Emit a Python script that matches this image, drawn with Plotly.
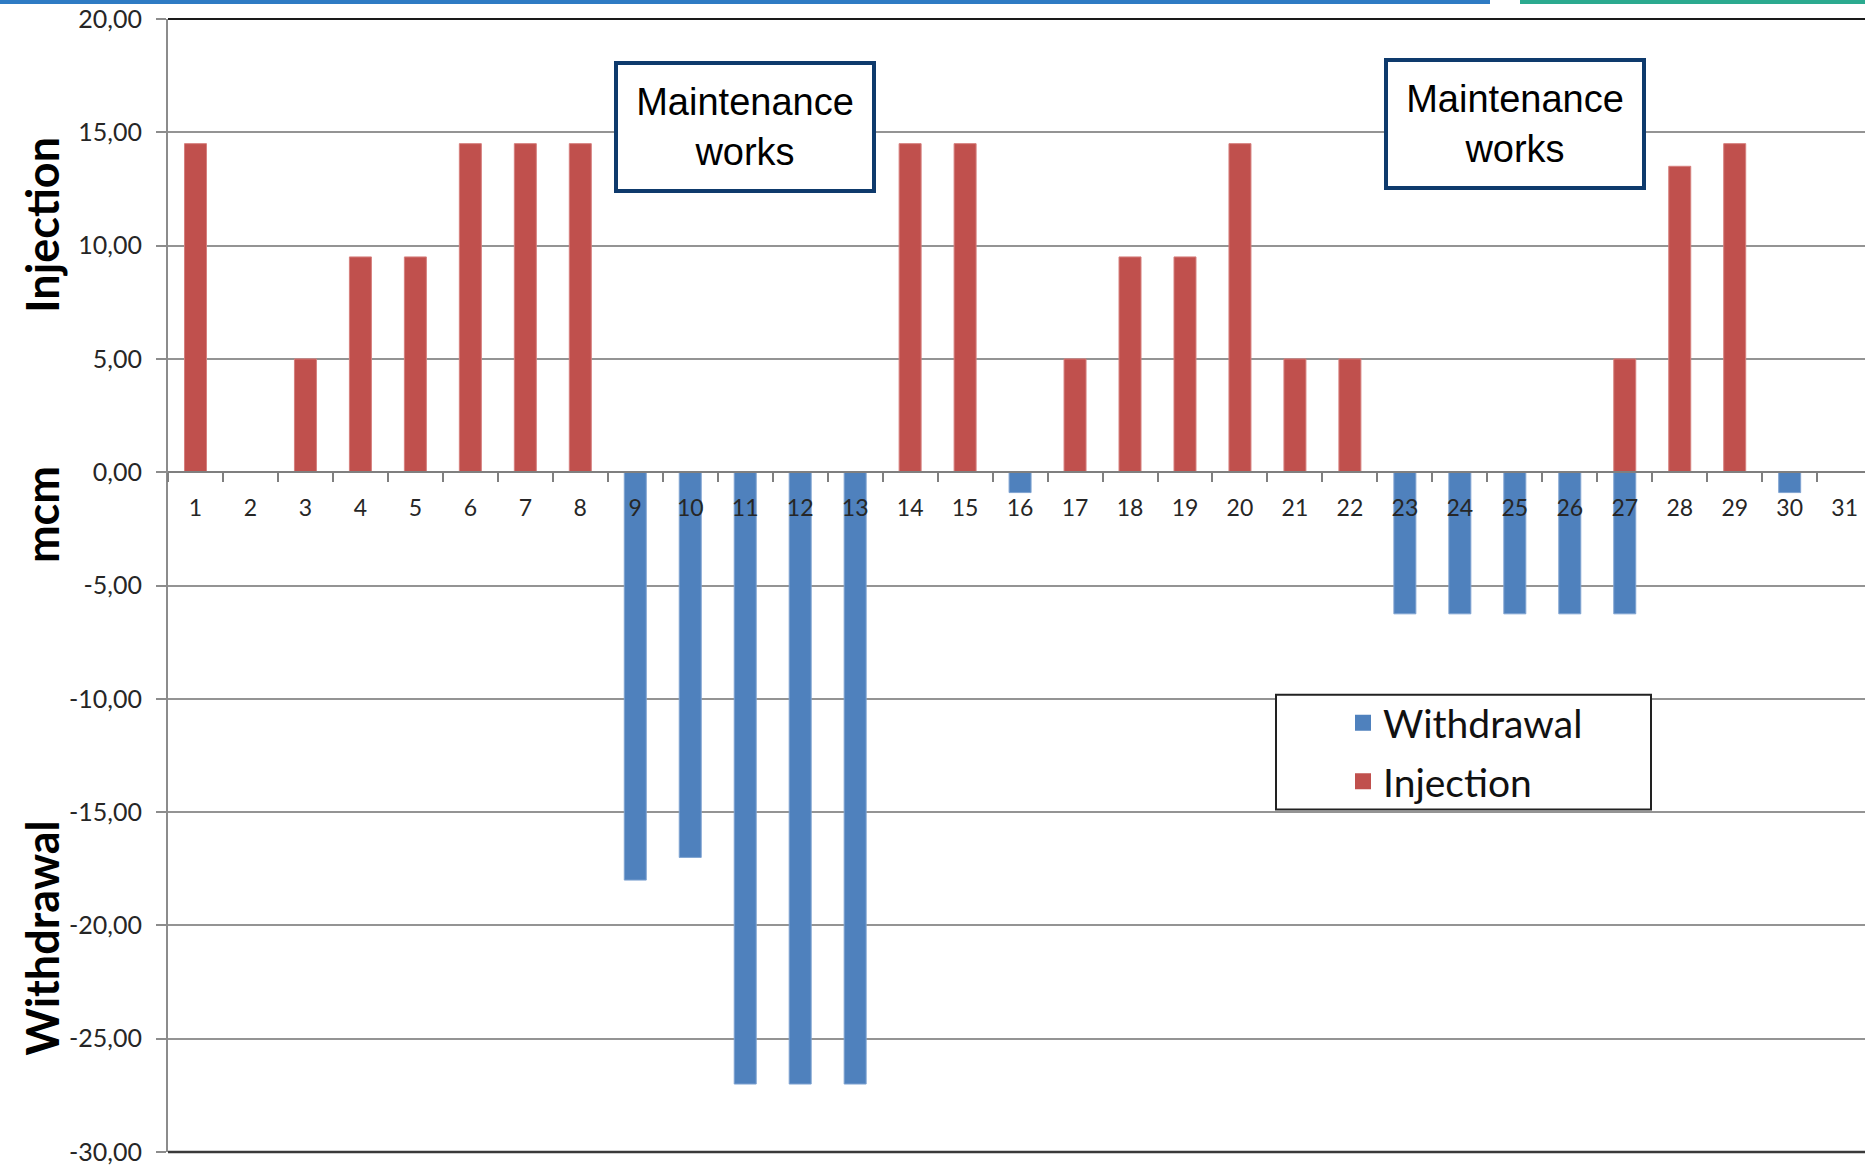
import plotly.graph_objects as go

# ---------------- data ----------------
days = ["1", "2", "3", "4", "5", "6", "7", "8", "9", "10", "11", "12", "13", "14", "15", "16",
        "17", "18", "19", "20", "21", "22", "23", "24", "25", "26", "27", "28", "29", "30", "31"]

withdrawal = [None, None, None, None, None, None, None, None, -18, -17, -27, -27, -27, None, None, -0.9,
              None, None, None, None, None, None, -6.25, -6.25, -6.25, -6.25, -6.25, None, None, -0.9, None]

injection = [14.5, None, 5, 9.5, 9.5, 14.5, 14.5, 14.5, None, None, None, None, None, 14.5, 14.5, None,
             5, 9.5, 9.5, 14.5, 5, 5, None, None, None, None, 5, 13.5, 14.5, None, None]

y_tickvals = [20, 15, 10, 5, 0, -5, -10, -15, -20, -25, -30]
y_ticktext = ["20,00", "15,00", "10,00", "5,00", "0,00", "-5,00", "-10,00", "-15,00", "-20,00", "-25,00", "-30,00"]

maint_days = ["11", "25"]
maint_text = "Maintenance<br>works"

# ---------------- layout geometry ----------------
W, H = 1865, 1166
L, R, T, B = 168, 0, 19, 12
PW, PH = W - L - R, H - T - B
y_min, y_max = -30, 20
zero_pos = (0 - y_min) / (y_max - y_min)


def px_x(x):
    return (x - L) / PW


def px_y(y):
    return (H - B - y) / PH


BLUE = "#4F81BD"
RED = "#C0504D"
TXT = "#262626"

fig = go.Figure()
fig.add_trace(go.Bar(x=days, y=withdrawal, name="Withdrawal", marker_color=BLUE,
                     marker_line=dict(color="#7FA3D1", width=1), width=0.4,
                     showlegend=False))
fig.add_trace(go.Bar(x=days, y=injection, name="Injection", marker_color=RED,
                     marker_line=dict(color="#D67F7D", width=1), width=0.4,
                     showlegend=False))
# legend entries (square swatches, no drawn points)
fig.add_trace(go.Scatter(x=[None], y=[None], mode="markers", name="Withdrawal",
                         marker=dict(symbol="square", size=16, color=BLUE), legendgroup="w"))
fig.add_trace(go.Scatter(x=[None], y=[None], mode="markers", name="Injection",
                         marker=dict(symbol="square", size=16, color=RED), legendgroup="i"))

fig.update_layout(
    width=W, height=H,
    margin=dict(l=L, r=R, t=T, b=B, pad=0),
    paper_bgcolor="white", plot_bgcolor="white",
    barmode="relative",
    font=dict(family="Lato, Carlito, sans-serif", color=TXT),
    showlegend=True,
    legend=dict(x=px_x(1343), y=px_y(692), xanchor="left", yanchor="top",
                bgcolor="rgba(0,0,0,0)", borderwidth=0,
                font=dict(family="Lato, sans-serif", size=39, color="#111111"),
                traceorder="grouped", tracegroupgap=5, itemwidth=30),
)

fig.update_xaxes(
    type="category", categoryorder="array", categoryarray=days,
    range=[-0.5, 30.37],
    anchor="free", position=zero_pos,
    showline=True, linecolor="#7f7f7f", linewidth=2,
    ticks="outside", tickson="boundaries", ticklen=9, tickwidth=1.5, tickcolor="#7f7f7f",
    showgrid=False, zeroline=False,
    tickfont=dict(family="Lato, sans-serif", size=23, color=TXT),
    ticklabelstandoff=15,
    fixedrange=True,
)

fig.update_yaxes(
    range=[y_min, y_max],
    tickvals=y_tickvals, ticktext=y_ticktext,
    showgrid=True, gridcolor="#949494", gridwidth=1.5,
    zeroline=False,
    showline=True, linecolor="#8c8c8c", linewidth=2,
    ticks="outside", ticklen=10, tickwidth=1.5, tickcolor="#8c8c8c",
    tickfont=dict(family="Lato, sans-serif", size=25, color=TXT),
    ticklabelstandoff=9,
    ticklabeloverflow="allow",
    fixedrange=True,
)

shapes = [
    # top and bottom frame lines of the plot area
    dict(type="line", xref="paper", yref="paper", x0=0, x1=1, y0=1, y1=1,
         line=dict(color="#1a1a1a", width=2)),
    dict(type="line", xref="paper", yref="paper", x0=0, x1=1, y0=0, y1=0,
         line=dict(color="#3a3a3a", width=2.5)),
    # legend frame
    dict(type="rect", xref="paper", yref="paper",
         x0=px_x(1276), x1=px_x(1651), y0=px_y(811), y1=px_y(696),
         line=dict(color="#222222", width=2), fillcolor="white", layer="above"),
    # decorative slide strip at very top
    dict(type="rect", xref="paper", yref="paper",
         x0=px_x(0), x1=px_x(1490), y0=px_y(4), y1=px_y(0),
         line=dict(width=0), fillcolor="#2E7BC4"),
    dict(type="rect", xref="paper", yref="paper",
         x0=px_x(1520), x1=1, y0=px_y(4), y1=px_y(0),
         line=dict(width=0), fillcolor="#2BAA8F"),
]
fig.update_layout(shapes=shapes)

# maintenance annotation boxes
box_y = [px_y(127), px_y(124)]
for d, yy in zip(maint_days, box_y):
    fig.add_annotation(x=days.index(d), xref="x", y=yy, yref="paper", text=maint_text,
                       showarrow=False, xanchor="center", yanchor="middle",
                       font=dict(family="Liberation Sans, Arial, sans-serif", size=38, color="#000000"),
                       bordercolor="#0E3A6C", borderwidth=4, borderpad=0,
                       bgcolor="white", width=254, height=124, align="center")

# axis titles as rotated labels
titles = [("Injection", 225), ("mcm", 516), ("Withdrawal", 940)]
for txt, ypx in titles:
    fig.add_annotation(x=px_x(42), xref="paper", y=px_y(ypx), yref="paper",
                       text=txt, textangle=-90, showarrow=False,
                       xanchor="center", yanchor="middle",
                       font=dict(family="Lato, sans-serif", size=45, color="#000000", weight="bold"))

fig.write_html("out.html", config={"displayModeBar": False},
               post_script="document.body.style.margin='0';document.body.style.overflow='hidden';")
